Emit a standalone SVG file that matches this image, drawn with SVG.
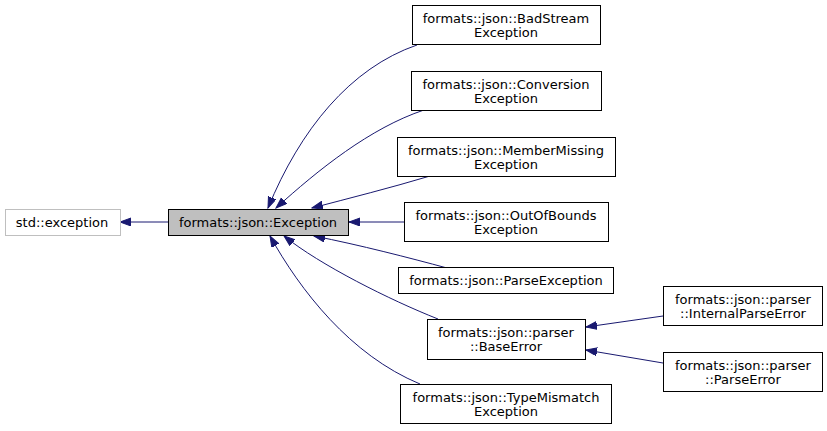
<svg xmlns="http://www.w3.org/2000/svg" width="827" height="431" viewBox="0 0 827 431">
<style>
.box{fill:#ffffff;stroke:#000000;stroke-width:1}
.ext{fill:#ffffff;stroke:#bfbfbf;stroke-width:1}
.cur{fill:#bfbfbf;stroke:#000000;stroke-width:1}
text{font-family:"DejaVu Sans",sans-serif;font-size:13px;fill:#000000;text-anchor:middle}
.e{fill:none;stroke:#191970;stroke-width:1;marker-end:url(#arr)}
</style>
<defs>
<marker id="arr" markerUnits="userSpaceOnUse" markerWidth="12" markerHeight="10" refX="11" refY="4" orient="auto">
<path d="M0,0 L11,4 L0,8 z" fill="#191970" stroke="#191970"/>
</marker>
</defs>
<rect width="827" height="431" fill="#ffffff"/>
<g id="connectors">
<path class="e" d="M168,222 L120,222"/>
<path class="e" d="M417,45 C350,68 300,130 268,208"/>
<path class="e" d="M424,110 C370,128 318,170 276,208"/>
<path class="e" d="M430,176 C390,188 350,198 312,208"/>
<path class="e" d="M404,222 L349,222"/>
<path class="e" d="M447,268 C410,258 360,245 314,236"/>
<path class="e" d="M438,319 C390,300 320,265 284,236"/>
<path class="e" d="M420,384 C350,355 300,290 270,236"/>
<path class="e" d="M663,316 L586,327"/>
<path class="e" d="M663,363 L586,350"/>
</g>
<g id="std_exception"><rect class="ext" x="5.5" y="209.5" width="115" height="26"/><text x="62" y="227">std::exception</text></g>
<g id="json_exception"><rect class="cur" x="168.5" y="209.5" width="180" height="26"/><text x="258" y="227">formats::json::Exception</text></g>
<g id="badstream"><rect class="box" x="412.5" y="5.5" width="188" height="39"/><text x="506" y="23">formats::json::BadStream</text><text x="506" y="37">Exception</text></g>
<g id="conversion"><rect class="box" x="411.5" y="71.5" width="190" height="39"/><text x="506" y="89">formats::json::Conversion</text><text x="506" y="103">Exception</text></g>
<g id="membermissing"><rect class="box" x="397.5" y="137.5" width="218" height="39"/><text x="506" y="155">formats::json::MemberMissing</text><text x="506" y="169">Exception</text></g>
<g id="outofbounds"><rect class="box" x="404.5" y="202.5" width="204" height="39"/><text x="506" y="220">formats::json::OutOfBounds</text><text x="506" y="234">Exception</text></g>
<g id="parseexception"><rect class="box" x="398.5" y="267.5" width="215" height="26"/><text x="506" y="285">formats::json::ParseException</text></g>
<g id="baseerror"><rect class="box" x="427.5" y="319.5" width="158" height="40"/><text x="506" y="337">formats::json::parser</text><text x="506" y="351">::BaseError</text></g>
<g id="typemismatch"><rect class="box" x="400.5" y="384.5" width="211" height="39"/><text x="506" y="402">formats::json::TypeMismatch</text><text x="506" y="416">Exception</text></g>
<g id="internalparseerror"><rect class="box" x="663.5" y="286.5" width="159" height="39"/><text x="743" y="304">formats::json::parser</text><text x="743" y="318">::InternalParseError</text></g>
<g id="parseerror"><rect class="box" x="663.5" y="352.5" width="159" height="39"/><text x="743" y="370">formats::json::parser</text><text x="743" y="384">::ParseError</text></g>
</svg>
